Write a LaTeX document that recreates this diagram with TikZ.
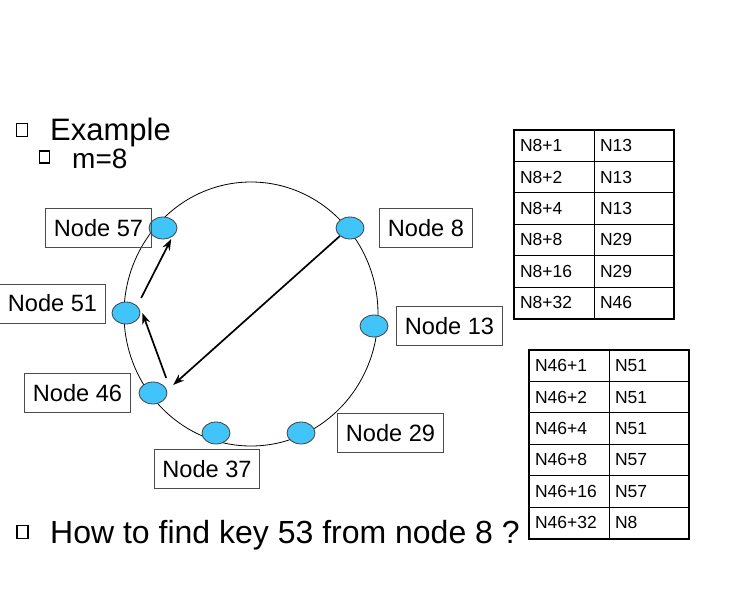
\documentclass[tikz,border=0pt]{standalone}
\usepackage{fontspec}
\setmainfont{Liberation Sans}
\usetikzlibrary{arrows.meta,positioning,calc,shapes.geometric}
\definecolor{ringblue}{RGB}{64,196,250}

\begin{document}
\begin{tikzpicture}[x=1pt, y=-1pt,
        peer/.style={draw=black!75, ellipse, fill=ringblue, minimum width=28pt, minimum height=22pt, inner sep=0pt, line width=0.8pt},
        tag/.style={draw=black!70, line width=0.9pt, minimum height=39pt, inner xsep=8pt, font=\fontsize{23.6}{27}\selectfont},
        cell/.style={draw, line width=0.8pt, minimum height=31.4pt, text width=68pt, inner xsep=6pt, inner ysep=0pt, align=left, font=\fontsize{17.5}{20}\selectfont},
        hop/.style={-{Stealth[length=11pt,width=8pt]}, line width=1.7pt},
        bullet/.style={draw, line width=1.5pt, inner sep=0pt, minimum width=11pt, minimum height=13pt}]
        \useasboundingbox (0,0) rectangle (755,592);
        % bullet text
        \node[bullet] (b1) at (22,130) {};
        \node[anchor=base west, inner sep=0pt, font=\fontsize{31}{36}\selectfont] (example) at (50,140) {Example};
        \node[bullet, minimum width=10pt, minimum height=12pt] (b2) at (44.5,157) {};
        \node[anchor=base west, inner sep=0pt, font=\fontsize{28}{32}\selectfont] (mval) at (72,168) {m=8};
        \node[bullet] (b3) at (22.5,532) {};
        \node[anchor=base west, inner sep=0pt, font=\fontsize{32}{36}\selectfont] (question) at (50,543) {How to find key 53 from node 8 ?};
        % ring with peers
        \draw[line width=0.8pt] (251,314) ellipse [x radius=127pt, y radius=132pt];
        \node[peer] (n57) at (163,228) {};
        \node[peer] (n8) at (350,228) {};
        \node[peer] (n51) at (126,313) {};
        \node[peer] (n13) at (374,326) {};
        \node[peer] (n46) at (153,393) {};
        \node[peer] (n37) at (216,433) {};
        \node[peer] (n29) at (301,433) {};
        \node[tag, left=-3pt of n57] (t57) {Node 57};
        \node[tag, right=15pt of n8] (t8) {Node 8};
        \node[tag, left=6pt of n51, yshift=9.5pt] (t51) {Node 51};
        \node[tag, right=8pt of n13] (t13) {Node 13};
        \node[tag, left=8pt of n46] (t46) {Node 46};
        \node[tag, right=22pt of n29] (t29) {Node 29};
        \node[tag, below=5pt of n37, xshift=-9pt] (t37) {Node 37};
        % lookup hops
        \draw[hop] (n8.south west) -- ([xshift=10pt]n46.north east);
        \draw[hop] ([xshift=3pt,yshift=7pt]n46.north east) -- ([xshift=2pt]n51.east);
        \draw[hop] ([xshift=5pt,yshift=7pt]n51.north east) -- ([xshift=-2pt,yshift=-3pt]n57.south east);
        % finger tables
        \foreach \k/\s [count=\i] in {1/13,2/13,4/13,8/29,16/29,32/46} {
          \node[cell] (fa\i) at (554,{130+31.4*(\i-0.5)}) {N8+\k};
          \node[cell] (fb\i) at (634,{130+31.4*(\i-0.5)}) {N\s};
        }
        \draw[line width=2pt] (fa1.north west) rectangle (fb6.south east);
        \foreach \k/\s [count=\i] in {1/51,2/51,4/51,8/57,16/57,32/8} {
          \node[cell] (ga\i) at (569,{350+31.4*(\i-0.5)}) {N46+\k};
          \node[cell] (gb\i) at (649,{350+31.4*(\i-0.5)}) {N\s};
        }
        \draw[line width=2pt] (ga1.north west) rectangle (gb6.south east);
      \end{tikzpicture}
\end{document}
